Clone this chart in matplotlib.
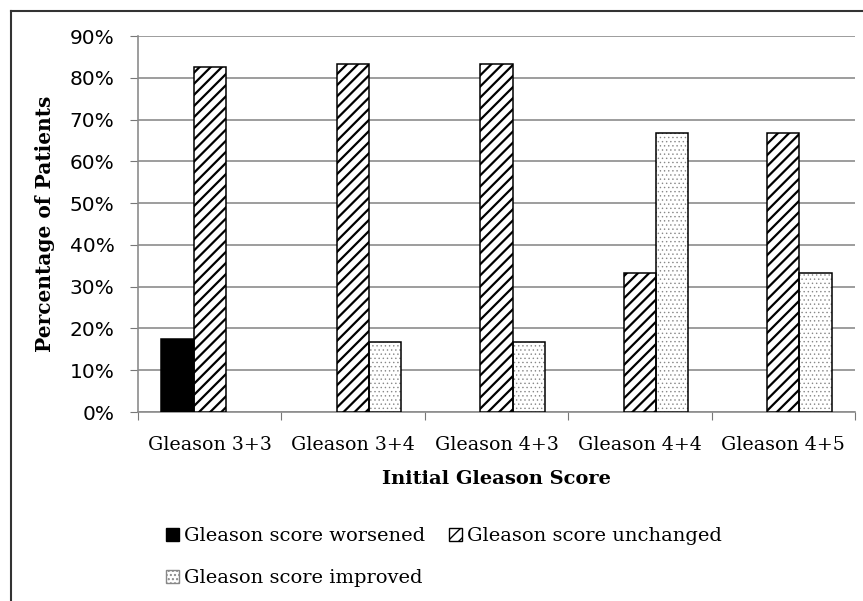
import numpy as np
import matplotlib
matplotlib.use('Agg')
import matplotlib.pyplot as plt
from matplotlib.lines import Line2D
from matplotlib.patches import Patch

categories = ['Gleason 3+3', 'Gleason 3+4', 'Gleason 4+3', 'Gleason 4+4', 'Gleason 4+5']
worsened = [17.4, 0, 0, 0, 0]
unchanged = [82.6, 83.3, 83.3, 33.3, 66.7]
improved = [0, 16.7, 16.7, 66.7, 33.3]
yticks = [0, 10, 20, 30, 40, 50, 60, 70, 80, 90]

serif = 'DejaVu Serif'
dot_color = '#888888'

fig = plt.figure(figsize=(8.63, 6.01), dpi=100)
ax = fig.add_axes([138/863, 1 - 412/601, (855-138)/863, (412-36)/601])

x = np.arange(len(categories))
w = 0.225


def draw(pos, vals, face, hatch, hcolor, hlw):
    for xi, v in zip(pos, vals):
        if v <= 0:
            continue
        with plt.rc_context({'hatch.linewidth': hlw}):
            ax.bar(xi, v, w, color=face, edgecolor=hcolor, hatch=hatch, linewidth=0, zorder=3)
        ax.bar(xi, v, w, color='none', edgecolor='black', linewidth=1.1, zorder=4)


draw(x - w, worsened, 'black', None, 'black', 1.0)
draw(x, unchanged, 'white', '///', 'black', 1.6)
draw(x + w, improved, 'white', '....', dot_color, 0.5)

ax.set_xlim(-0.5, len(categories) - 0.5)
ax.set_ylim(0, 90)
ax.set_yticks(yticks)
ax.set_yticklabels([f'{t}%' for t in yticks], fontsize=14.5, family='DejaVu Sans')
ax.yaxis.grid(True, color='#8c8c8c', linewidth=1.2, zorder=0)
ax.set_axisbelow(True)

ax.set_xticks(np.arange(len(categories) + 1) - 0.5, minor=False)
ax.set_xticklabels([])
ax.set_xticks(x, minor=True)
ax.set_xticklabels(categories, minor=True, fontsize=13.7, family=serif)
ax.tick_params(axis='x', which='minor', length=0, pad=17)
ax.tick_params(axis='x', which='major', length=6, direction='out', color='#777777')
ax.tick_params(axis='y', length=6, color='#777777', pad=11)

for s in ['top', 'right']:
    ax.spines[s].set_visible(False)
ax.spines['left'].set_color('#8c8c8c')
ax.spines['bottom'].set_color('#8c8c8c')
ax.spines['left'].set_linewidth(1.2)
ax.spines['bottom'].set_linewidth(1.2)

ax.set_xlabel('Initial Gleason Score', fontsize=14, family=serif, fontweight='bold')
ax.xaxis.set_label_coords(0.5, -(470 - 412) / 376)
ax.set_ylabel('Percentage of Patients', fontsize=14.5, family=serif, fontweight='bold')
ax.yaxis.set_label_coords(-(138 - 55) / 717, 0.5)

with plt.rc_context({'hatch.linewidth': 0.5}):
    h_imp = Patch(facecolor='white', edgecolor=dot_color, hatch='....', label='Gleason score improved')
with plt.rc_context({'hatch.linewidth': 1.6}):
    h_unc = Patch(facecolor='white', edgecolor='black', hatch='///', label='Gleason score unchanged')
handles = [
    Patch(facecolor='black', edgecolor='black', label='Gleason score worsened'),
    h_imp,
    h_unc,
]
fig.legend(handles=handles, ncol=2, loc='upper left', bbox_to_anchor=(166/863, 1 - 527/601),
           frameon=False, prop={'family': serif, 'size': 14}, handlelength=0.65, handleheight=0.65,
           handletextpad=0.3, columnspacing=1.2, labelspacing=1.25, borderaxespad=0, borderpad=0)

# outer frame (left and top edges)
fig.add_artist(Line2D([11/863, 11/863], [0, 1 - 11/601], color='#333333', lw=1.5, transform=fig.transFigure))
fig.add_artist(Line2D([11/863, 1], [1 - 11/601, 1 - 11/601], color='#333333', lw=1.5, transform=fig.transFigure))

fig.savefig('out.png', dpi=100)
